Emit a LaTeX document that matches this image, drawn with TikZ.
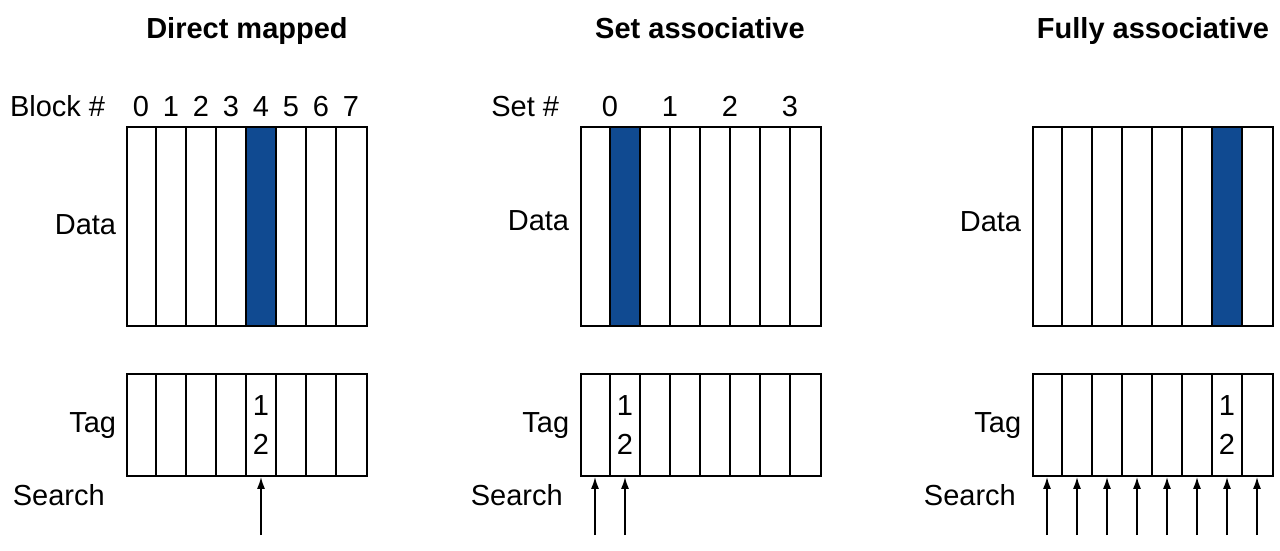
\documentclass[tikz,border=0pt]{standalone}
\usepackage{fontspec}
\setmainfont{Liberation Sans}
\usetikzlibrary{arrows.meta}
\definecolor{cblue}{RGB}{16,74,145}
\begin{document}
\begin{tikzpicture}[x=1pt,y=-1pt,line width=1.8pt,
  lbl/.style={font=\fontsize{29}{34}\selectfont,inner sep=0pt},
  ttl/.style={font=\fontsize{29}{34}\selectfont\bfseries,inner sep=0pt,anchor=base},
  boxd/.style={draw,inner sep=0pt,anchor=north west,minimum width=240pt,minimum height=199pt},
  boxt/.style={draw,inner sep=0pt,anchor=north west,minimum width=240pt,minimum height=102pt},
  arr/.style={-{Latex[length=12pt,width=8pt]},line width=1.8pt}]
\useasboundingbox (0,0) rectangle (1280,551);

% titles
\node[ttl] (t1) at (247,39) {Direct mapped};
\node[ttl] (t2) at (700,39) {Set associative};
\node[ttl] (t3) at (1153,39) {Fully associative};

% ---------- Direct mapped ----------
\fill[cblue] (246,126) rectangle (276,325);
\node[boxd] (d1) at (126,126) {};
\foreach \i in {1,...,7} \draw (126+30*\i,126) -- (126+30*\i,325);
\node[boxt] (g1) at (126,373) {};
\foreach \i in {1,...,7} \draw (126+30*\i,373) -- (126+30*\i,475);
\node[lbl,anchor=base east] (bl) at (106,117) {Block \#};
\foreach \i in {0,...,7} \node[lbl,anchor=base] (bn\i) at (141+30*\i,117) {\i};
\node[lbl,anchor=base east] (dl1) at (117,234) {Data};
\node[lbl,anchor=base east] (tl1) at (117,432) {Tag};
\node[lbl,anchor=base west] (sl1) at (12,505) {Search};
\node[lbl,anchor=base] (a1) at (261,415) {1};
\node[lbl,anchor=base] (b1) at (261,454) {2};
\coordinate (s1) at (261,535);
\draw[arr] (s1) -- (g1.south -| s1);

% ---------- Set associative ----------
\fill[cblue] (610,126) rectangle (640,325);
\node[boxd] (d2) at (580,126) {};
\foreach \i in {1,...,7} \draw (580+30*\i,126) -- (580+30*\i,325);
\node[boxt] (g2) at (580,373) {};
\foreach \i in {1,...,7} \draw (580+30*\i,373) -- (580+30*\i,475);
\node[lbl,anchor=base east] (sh) at (560,117) {Set \#};
\foreach \i in {0,...,3} \node[lbl,anchor=base] (sn\i) at (610+60*\i,117) {\i};
\node[lbl,anchor=base east] (dl2) at (570,230) {Data};
\node[lbl,anchor=base east] (tl2) at (570,432) {Tag};
\node[lbl,anchor=base west] (sl2) at (470,505) {Search};
\node[lbl,anchor=base] (a2) at (625,415) {1};
\node[lbl,anchor=base] (b2) at (625,454) {2};
\foreach \i in {0,1} {
  \coordinate (sa\i) at (595+30*\i,535);
  \draw[arr] (sa\i) -- (g2.south -| sa\i);
}

% ---------- Fully associative ----------
\fill[cblue] (1212,126) rectangle (1242,325);
\node[boxd] (d3) at (1032,126) {};
\foreach \i in {1,...,7} \draw (1032+30*\i,126) -- (1032+30*\i,325);
\node[boxt] (g3) at (1032,373) {};
\foreach \i in {1,...,7} \draw (1032+30*\i,373) -- (1032+30*\i,475);
\node[lbl,anchor=base east] (dl3) at (1022,231) {Data};
\node[lbl,anchor=base east] (tl3) at (1022,432) {Tag};
\node[lbl,anchor=base west] (sl3) at (923,505) {Search};
\node[lbl,anchor=base] (a3) at (1227,415) {1};
\node[lbl,anchor=base] (b3) at (1227,454) {2};
\foreach \i in {0,...,7} {
  \coordinate (sf\i) at (1047+30*\i,535);
  \draw[arr] (sf\i) -- (g3.south -| sf\i);
}
\end{tikzpicture}
\end{document}
